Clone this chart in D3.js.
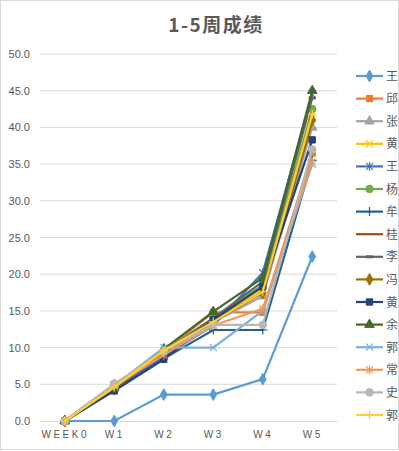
<!DOCTYPE html>
<html>
<head>
<meta charset="utf-8">
<script src="https://cdnjs.cloudflare.com/ajax/libs/d3/7.8.5/d3.min.js"></script>
<style>
  body { margin: 0; background: #fff; }
  text { font-family: "Noto Sans CJK SC", "DejaVu Sans", sans-serif; fill: #595959; }
</style>
</head>
<body>
<div class="chart"></div>
<script>
// categories along the x axis
var weeks = ["WEEK0", "W1", "W2", "W3", "W4", "W5"];
var yTicks = [0, 5, 10, 15, 20, 25, 30, 35, 40, 45, 50];

// legend names (clipped in the original)
var names = ["王", "邱", "张", "黄", "王", "杨", "牟", "桂", "李", "冯", "黄", "余", "郭", "常", "史", "郭"];

// scores per student
var s01 = [0, 0, 3.6, 3.6, 5.7, 22.4];
var s02 = [0, 5.0, 9.5, 14.8, 14.8, 36.5];
var s03 = [0, 5.0, 9.3, 13.5, 17.0, 40.0];
var s04 = [0, 4.8, 9.5, 13.8, 17.8, 41.3];
var s05 = [0, 4.3, 8.8, 13.0, 20.2, 44.5];
var s06 = [0, 4.5, 9.5, 14.0, 18.5, 42.5];
var s07 = [0, 4.2, 8.5, 12.4, 12.4, 35.5];
var s08 = [0, 4.6, 9.2, 13.5, 17.5, 40.8];
var s09 = [0, 4.5, 9.4, 14.0, 19.0, 44.0];
var s10 = [0, 4.5, 9.2, 13.6, 17.5, 41.0];
var s11 = [0, 4.1, 8.4, 13.8, 18.3, 38.3];
var s12 = [0, 4.5, 9.8, 14.9, 19.5, 45.0];
var s13 = [0, 4.8, 10.0, 10.0, 15.0, 35.0];
var s14 = [0, 4.8, 9.0, 13.0, 15.3, 35.3];
var s15 = [0, 5.0, 9.5, 13.1, 13.1, 37.0];
var s16 = [0, 4.6, 9.6, 13.5, 17.6, 41.8];

var allScores = [s01, s02, s03, s04, s05, s06, s07, s08, s09, s10, s11, s12, s13, s14, s15, s16];

// excel office palette + marker shapes
var colors = ["#5B9BD5", "#ED7D31", "#A5A5A5", "#FFC000", "#4472C4", "#70AD47", "#255E91", "#9E480E",
              "#636363", "#997300", "#264478", "#43682B", "#7CAFDD", "#F1975A", "#B7B7B7", "#FFCD33"];
var markers = ["diamond", "square", "triangle", "x", "star", "circle", "plus", "none",
               "dash", "diamond", "square", "triangle", "x", "star", "circle", "plus"];

var svgWidth = 399, svgHeight = 451;
var margin = {top: 54, right: 62, bottom: 30, left: 40};
var width = svgWidth - margin.left - margin.right;
var height = 421 - margin.top;

var svg = d3.select(".chart").append("svg")
  .attr("width", svgWidth)
  .attr("height", svgHeight);

// outer border
svg.append("rect")
  .attr("x", 0.5).attr("y", 0.5)
  .attr("width", svgWidth - 1).attr("height", 449)
  .attr("fill", "none").attr("stroke", "#D9D9D9");

svg.append("text")
  .attr("x", 216).attr("y", 32)
  .attr("text-anchor", "middle")
  .attr("font-size", "19px")
  .attr("font-weight", "bold")
  .attr("letter-spacing", "1.5px")
  .text("1-5周成绩");

var chartGroup = svg.append("g")
  .attr("transform", `translate(${margin.left}, ${margin.top})`);

var xScale = d3.scalePoint().domain(weeks).range([0, width]).padding(0.5);
var yScale = d3.scaleLinear().domain([0, 50]).range([height, 0]);

// gridlines
chartGroup.append("g")
  .selectAll("line")
  .data(yTicks.slice(1))
  .enter().append("line")
  .attr("x1", 0).attr("x2", width)
  .attr("y1", d => yScale(d)).attr("y2", d => yScale(d))
  .attr("stroke", "#D9D9D9");

var leftAxis = d3.axisLeft(yScale).tickValues(yTicks).tickFormat(d3.format(".1f")).tickSize(0).tickPadding(10);
var yAxis = chartGroup.append("g").call(leftAxis);
yAxis.select(".domain").remove();
yAxis.selectAll("text").attr("font-size", "11px").attr("fill", "#595959")
  .style("font-family", "'Liberation Sans', Arial, sans-serif");

var bottomAxis = d3.axisBottom(xScale).tickSize(0).tickPadding(10);
var xAxis = chartGroup.append("g")
  .attr("transform", `translate(0, ${height})`)
  .call(bottomAxis);
xAxis.select(".domain").attr("stroke", "#D9D9D9");
xAxis.selectAll("text").attr("font-size", "10px").attr("fill", "#595959")
  .attr("letter-spacing", "2.5px")
  .style("font-family", "'Liberation Sans', Arial, sans-serif");

// draw a marker at (0,0) in group g
function drawMarker(g, type, color) {
  var sym = null;
  if (type == "diamond") sym = d3.symbol().type(d3.symbolDiamond).size(40);
  if (type == "square") sym = d3.symbol().type(d3.symbolSquare).size(40);
  if (type == "triangle") sym = d3.symbol().type(d3.symbolTriangle).size(40);
  if (type == "circle") sym = d3.symbol().type(d3.symbolCircle).size(45);
  if (sym) {
    g.append("path").attr("d", sym()).attr("fill", color).attr("stroke", color);
    return;
  }
  var r = 3.5;
  var segs = [];
  if (type == "x" || type == "star") segs.push([-r, -r, r, r], [-r, r, r, -r]);
  if (type == "plus" || type == "star") segs.push([0, -r - 1, 0, r + 1]);
  if (type == "plus") segs.push([-r - 1, 0, r + 1, 0]);
  if (type == "dash") segs.push([-r, 0, r, 0]);
  segs.forEach(s => {
    g.append("line").attr("x1", s[0]).attr("y1", s[1]).attr("x2", s[2]).attr("y2", s[3])
      .attr("stroke", color).attr("stroke-width", type == "dash" ? 3 : 1.2);
  });
}

var line = d3.line()
  .x((d, i) => xScale(weeks[i]))
  .y(d => yScale(d));

allScores.forEach(function(vals, k) {
  var g = chartGroup.append("g");
  g.append("path")
    .attr("d", line(vals))
    .attr("fill", "none")
    .attr("stroke", colors[k])
    .attr("stroke-width", 2.2);
  vals.forEach(function(v, i) {
    var m = g.append("g").attr("transform", `translate(${xScale(weeks[i])}, ${yScale(v)})`);
    drawMarker(m, markers[k], colors[k]);
  });
});

// legend
var legend = svg.append("g").attr("transform", "translate(356, 76)");
names.forEach(function(n, k) {
  var item = legend.append("g").attr("transform", `translate(0, ${k * 22.6})`);
  item.append("line").attr("x1", 0).attr("x2", 27).attr("y1", 0).attr("y2", 0)
    .attr("stroke", colors[k]).attr("stroke-width", 2.2);
  var m = item.append("g").attr("transform", "translate(13.5, 0)");
  drawMarker(m, markers[k], colors[k]);
  item.append("text").attr("x", 30).attr("y", 4.5)
    .attr("font-size", "12px").text(n);
});
</script>
</body>
</html>
